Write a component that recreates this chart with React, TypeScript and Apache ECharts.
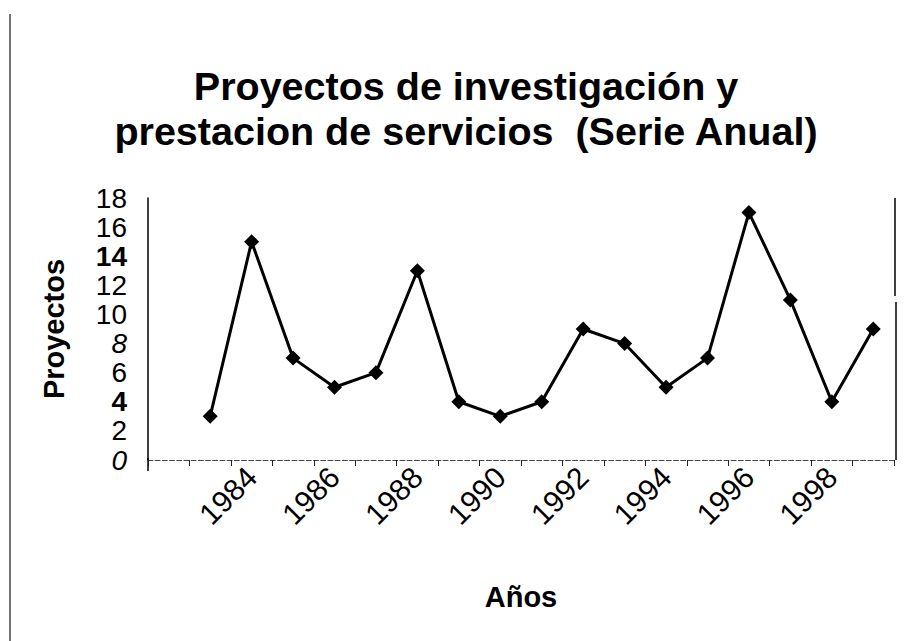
import React, { useEffect, useRef } from "react";
import * as echarts from "echarts";

const years = ["", "1983", "1984", "1985", "1986", "1987", "1988", "1989", "1990", "1991", "1992", "1993", "1994", "1995", "1996", "1997", "1998", "1999"];
const proyectos = [null, 3, 15, 7, 5, 6, 13, 4, 3, 4, 9, 8, 5, 7, 17, 11, 4, 9];
const yBoldTicks = [4, 14];
const yItalicTicks = [0, 8];
const titleLines = ["Proyectos de investigación y", "prestacion de servicios  (Serie Anual)"];

const FONT = "'Liberation Sans', Arial, Helvetica, sans-serif";

export default function App() {
  const ref = useRef<HTMLDivElement>(null);
  useEffect(() => {
    if (!ref.current) return;
    const chart = echarts.init(ref.current, null, { renderer: "svg" });
    chart.setOption({
      animation: false,
      backgroundColor: "#ffffff",
      title: {
        text: titleLines.join("\n"),
        left: 461,
        top: 58,
        textAlign: "center",
        textStyle: { fontFamily: FONT, fontSize: 39.5, fontWeight: "bold", color: "#000", lineHeight: 45 },
      },
      grid: { left: 148, right: 12, top: 198, bottom: 181 },
      xAxis: {
        type: "category",
        data: years,
        boundaryGap: true,
        name: "Años",
        nameLocation: "middle",
        nameGap: 122,
        nameTextStyle: { fontFamily: FONT, fontSize: 29, fontWeight: "bold", color: "#000" },
        axisLine: { lineStyle: { color: "#444", width: 1.2, type: "dashed" } },
        axisTick: { show: true, interval: 0, length: 6, lineStyle: { color: "#222", width: 1, type: "solid" } },
        axisLabel: { interval: 1, rotate: 45, margin: 12, fontFamily: FONT, fontSize: 30, color: "#000" },
        splitLine: { show: false },
      },
      yAxis: {
        type: "value",
        min: 0,
        max: 18,
        interval: 2,
        name: "Proyectos",
        nameLocation: "middle",
        nameGap: 80,
        nameRotate: 90,
        nameTextStyle: { fontFamily: FONT, fontSize: 29, fontWeight: "bold", color: "#000" },
        axisLine: { show: true, lineStyle: { color: "#000", width: 1.5 } },
        axisTick: { show: false },
        splitLine: { show: false },
        axisLabel: {
          margin: 21,
          fontFamily: FONT,
          fontSize: 28,
          color: "#000",
          formatter: (v: number) => {
            if (yBoldTicks.includes(v)) return "{b|" + v + "}";
            if (yItalicTicks.includes(v)) return "{i|" + v + "}";
            return String(v);
          },
          rich: {
            b: { fontFamily: FONT, fontSize: 28, fontWeight: "bold", color: "#000" },
            i: { fontFamily: FONT, fontSize: 28, fontStyle: "italic", color: "#000" },
          },
        },
      },
      series: [
        {
          type: "line",
          data: proyectos,
          symbol: "diamond",
          symbolSize: 15,
          connectNulls: false,
          lineStyle: { color: "#000", width: 3 },
          itemStyle: { color: "#000" },
        },
      ],
      graphic: [
        { type: "line", shape: { x1: 148, y1: 458, x2: 148, y2: 471 }, style: { stroke: "#000", lineWidth: 1.5 } },
        { type: "line", shape: { x1: 895, y1: 198, x2: 895, y2: 296 }, style: { stroke: "#000", lineWidth: 1.5 } },
        { type: "line", shape: { x1: 896, y1: 302, x2: 896, y2: 460 }, style: { stroke: "#000", lineWidth: 1.5 } },
        { type: "line", shape: { x1: 10, y1: 14, x2: 10, y2: 641 }, style: { stroke: "#444", lineWidth: 1.5 } },
      ],
    });
    return () => chart.dispose();
  }, []);
  return <div ref={ref} style={{ width: 906, height: 641, position: "absolute", left: 0, top: 0 }} />;
}
